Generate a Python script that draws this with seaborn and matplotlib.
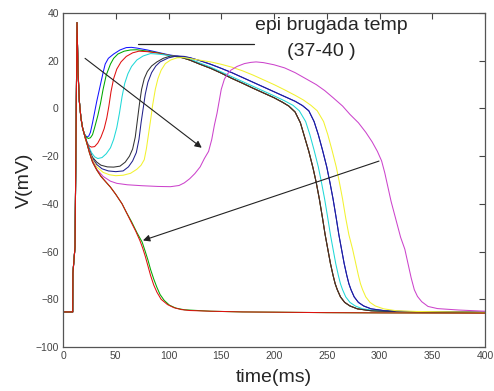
import matplotlib
matplotlib.use("Agg")
import matplotlib.pyplot as plt
import numpy as np
import pandas as pd
import seaborn as sns

# values (time in ms, voltage in mV)
upstroke_t = [0, 9.2, 9.4, 11.4, 13.3, 14.3, 15.5, 17, 18.5, 20]
upstroke_v = [-85.3, -85.3, -69, -58, 36, 15, 3, -4, -8, -10.5]

# repolarisation phases shared by groups of curves
early_late_t = [115, 120, 130, 140, 150, 160, 170, 180, 190, 200, 208, 214, 220, 225, 229, 233, 237, 240, 243,
                246, 248.5, 251, 253.5, 256, 258, 260, 263, 267, 272, 279, 292, 310, 350, 400]
early_late_v = [21, 20.3, 18.5, 16.8, 14.8, 12.6, 10.6, 8.5, 6.5, 4.5, 2.6, 1, -1.5, -6, -12, -18, -25, -31, -38,
                -46, -53, -59, -65, -70, -73.5, -76, -79, -81.3, -82.8, -84, -84.8, -85.1, -85.3, -85.5]
cyan_late_t = [120, 130, 140, 150, 160, 170, 180, 190, 200, 210, 218, 224, 230, 234, 238, 242, 245, 248, 251,
               253.5, 256, 258.5, 261, 263, 265, 268, 272, 277, 284, 297, 315, 355, 400]
cyan_late_v = [20.8, 19, 17.3, 15.3, 13.3, 11.3, 9.3, 7.3, 5.3, 3.2, 1.3, -1, -5.5, -11, -17.5, -24.5, -31, -38,
               -46, -53, -59, -65, -70, -73.5, -76, -79, -81.3, -82.8, -84, -84.8, -85.1, -85.3, -85.5]
blue_late_t = [120, 130, 140, 150, 160, 170, 180, 190, 200, 210, 220, 227, 233, 238, 242, 246, 250, 253, 256,
               259, 261.5, 264, 266.5, 269, 271, 273, 276, 280, 285, 292, 305, 323, 360, 400]
blue_late_v = [21.3, 20, 18.5, 16.8, 15, 13, 11, 9, 7, 5, 3, 1.2, -1, -5.5, -11, -17.5, -24.5, -31, -38,
               -46, -53, -59, -65, -70, -73.5, -76, -79, -81.3, -82.8, -84, -84.8, -85.1, -85.3, -85.5]
yellow_late_t = [130, 140, 150, 160, 170, 180, 190, 200, 210, 220, 228, 235, 241, 247, 251, 255, 259, 262, 265,
                 268, 271, 274.5, 277.5, 280, 282, 284, 287, 291, 296, 304, 316, 335, 370, 400]
yellow_late_v = [20.2, 19.5, 18.5, 17.3, 15.8, 14, 12, 10, 7.8, 5.5, 3.5, 1.3, -1, -5.5, -11, -17.5, -24.5, -31, -38,
                 -46, -53, -59, -65, -70, -73.5, -76, -79, -81.3, -82.8, -84, -84.8, -85.1, -85.3, -85.5]
magenta_late_t = [190, 200, 210, 220, 230, 240, 248, 256, 265, 272, 280, 287, 293, 298, 302, 305, 308, 311, 314,
                  317, 320, 324, 327, 330, 333, 336, 340, 346, 355, 375, 400]
magenta_late_v = [19.2, 18.3, 17, 15, 12.5, 10, 7.5, 4.5, 1, -2.5, -6, -10, -14, -18, -22, -27, -33, -39, -44,
                  -49, -54, -59, -65, -71, -76, -78.8, -81, -83, -83.9, -84.5, -85]

# notch and dome of each curve
blue1_t = [21.5, 23, 24.5, 26, 28, 30, 32, 35, 38, 40, 43, 48, 54, 60, 65, 70, 80, 90, 100, 110]
blue1_v = [-11.5, -12, -11.5, -10, -6, -1.5, 3, 9, 15, 18.6, 21, 22.8, 24.5, 25.5, 25.6, 25.3, 24.5, 23.5, 22.5, 21.8]
green_t = [22, 24, 26, 28, 30, 33, 35.5, 38, 41, 45, 48, 52, 58, 64, 70, 80, 90, 100, 110]
green_v = [-12, -12.6, -12.3, -11, -8, -3, 2, 8, 14, 18.6, 21, 22.8, 24, 24.5, 24.6, 24, 23.3, 22.3, 21.6]
red_t = [21, 23, 25, 27, 30, 33, 36, 39, 41.5, 43.5, 45.5, 48, 51, 55, 60, 66, 72, 80, 90, 100, 110]
red_v = [-12.5, -14.5, -15.8, -16.2, -16, -14.5, -12, -8.5, -4, 1, 7, 12.5, 16.5, 19.5, 21.8, 23.3, 24, 23.8, 23.2,
         22.3, 21.6]
cyan_t = [22, 24, 27, 30, 33, 37, 41, 45, 48, 51, 53.5, 56, 58.5, 61.5, 65, 70, 76, 83, 92, 100, 110]
cyan_v = [-13, -15.5, -18.5, -20.3, -21, -20.6, -19, -16.5, -13, -8, -2, 5, 10.5, 14.5, 17.6, 20.3, 22, 23, 22.7,
          22.2, 21.5]
black_t = [22, 25, 28, 32, 36, 42, 48, 54, 59, 63, 66, 68.5, 70.5, 72.5, 74.5, 77, 80, 84, 89, 95, 102, 110]
black_v = [-13.5, -17.5, -20.5, -22.5, -23.8, -24.5, -24.6, -24.2, -22.5, -20, -17, -12, -5, 2, 8, 12.5, 15.5, 17.8,
           19.5, 21, 22, 21.6]
navy_t = [22, 25, 28, 32, 37, 43, 50, 57, 62, 66, 69.5, 72, 74, 76, 78, 80.5, 84, 88, 92, 100, 108, 115]
navy_v = [-13.5, -17.5, -21, -23.5, -25.3, -26.2, -26.5, -26.2, -24.5, -22, -18.5, -13, -6, 0, 6, 11, 15, 17.8,
          19.5, 21.2, 22, 21.8]
yellow_t = [22, 25, 28, 32, 38, 44, 50, 57, 64, 70, 74, 77, 79, 81, 83, 85, 87.5, 90, 93, 97, 102, 108, 115, 122]
yellow_v = [-14, -18, -21.5, -24.5, -26.8, -27.8, -28.2, -28, -27.2, -25.5, -23.8, -21.5, -17, -11, -5, 1.5, 8,
            12.5, 16, 18.8, 20.3, 21.2, 21.3, 20.8]
magenta_t = [23, 27, 32, 38, 45, 51, 61, 75, 90, 102, 110, 115, 120, 125, 130, 134, 138, 141, 143.5, 146, 148, 150,
             153, 156, 159, 165, 172, 178, 183]
magenta_v = [-15, -21, -25.5, -28.5, -30.5, -31.4, -32, -32.4, -32.7, -32.8, -32.3, -31.2, -29.5, -27.3, -24.5, -21,
             -18, -13, -7, -2, 3, 8, 12.3, 14.5, 16, 17.6, 18.8, 19.3, 19.5]

# curves that lose the dome
green_fail_t = [22, 25, 28, 32, 36, 40, 45, 50, 56, 60, 65, 70, 75, 78, 80.5, 83, 86, 89, 92, 96, 101, 107, 115,
                140, 170, 200, 250, 300, 400]
green_fail_v = [-13.5, -18.5, -22.5, -25.8, -28.5, -30.5, -33, -36, -40, -43.5, -47.5, -52, -56, -60, -63.5, -67.5,
                -71.5, -75, -78, -80.5, -82.5, -83.7, -84.4, -85, -85.3, -85.4, -85.6, -85.7, -85.8]
red_fail_t = [22, 25, 28, 32, 36, 40, 45, 50, 56, 60, 65, 69, 73, 75.5, 78, 80.5, 83, 86, 89, 93, 99, 105, 112, 120,
              140, 170, 200, 250, 300, 400]
red_fail_v = [-13.5, -18.5, -22.5, -25.8, -28.5, -30.5, -33, -36, -40, -43.5, -48, -51.5, -55.5, -58.5, -62, -66,
              -70, -74, -77, -80, -82.2, -83.5, -84.3, -84.7, -85, -85.3, -85.4, -85.6, -85.7, -85.8]

curves = [
    ("blue1", blue1_t + blue_late_t, blue1_v + blue_late_v, "#1414ff"),
    ("green", green_t + early_late_t, green_v + early_late_v, "#00a800"),
    ("red", red_t + early_late_t, red_v + early_late_v, "#e01010"),
    ("cyan", cyan_t + cyan_late_t, cyan_v + cyan_late_v, "#20d8d8"),
    ("black", black_t + early_late_t, black_v + early_late_v, "#333333"),
    ("navy", navy_t + blue_late_t, navy_v + blue_late_v, "#22228c"),
    ("yellow", yellow_t + yellow_late_t, yellow_v + yellow_late_v, "#f2f230"),
    ("magenta", magenta_t + magenta_late_t, magenta_v + magenta_late_v, "#cc44cc"),
    ("green_fail", green_fail_t, green_fail_v, "#00a800"),
    ("red_fail", red_fail_t, red_fail_v, "#e01010"),
]

frames = []
for name, t, v, _ in curves:
    frames.append(pd.DataFrame({"t": upstroke_t + t, "V": upstroke_v + v, "curve": name}))
df = pd.concat(frames, ignore_index=True)
palette = {name: col for name, _, _, col in curves}

sns.set_style("white")
plt.rcParams["font.family"] = ["Liberation Sans", "DejaVu Sans"]

fig = plt.figure(figsize=(4.94, 3.91), dpi=100)
ax = fig.add_axes([63 / 494, 1 - 347 / 391, 422 / 494, 334 / 391])

sns.lineplot(data=df, x="t", y="V", hue="curve", palette=palette, hue_order=[c[0] for c in curves],
             estimator=None, sort=False, legend=False, linewidth=0.75, ax=ax)

ax.set_xlim(0, 400)
ax.set_ylim(-100, 40)
ax.set_xticks(np.arange(0, 401, 50))
ax.set_yticks(np.arange(-100, 41, 20))
ax.tick_params(direction="in", length=4, width=0.8, top=True, right=True,
               labelsize=7.5, colors="#444444", pad=3)
for s in ax.spines.values():
    s.set_color("#555555")
    s.set_linewidth(0.9)

ax.set_xlabel("time(ms)", fontsize=14, labelpad=6)
ax.set_ylabel("V(mV)", fontsize=14, labelpad=2)

# annotations
ax.annotate("", xy=(133.6, -17.2), xytext=(18.8, 21.7),
            arrowprops=dict(arrowstyle="-|>", color="#222222", lw=0.8, mutation_scale=10))
ax.annotate("", xy=(73.3, -55.7), xytext=(302, -21.7),
            arrowprops=dict(arrowstyle="-|>", color="#222222", lw=0.8, mutation_scale=10))
ax.plot([71, 181], [27.2, 27.2], color="#222222", lw=0.9)
ax.text(254, 34.6, "epi brugada temp", fontsize=14, ha="center", va="center")
ax.text(245, 24, "(37-40 )", fontsize=14, ha="center", va="center")

fig.savefig("out.png", dpi=100)
